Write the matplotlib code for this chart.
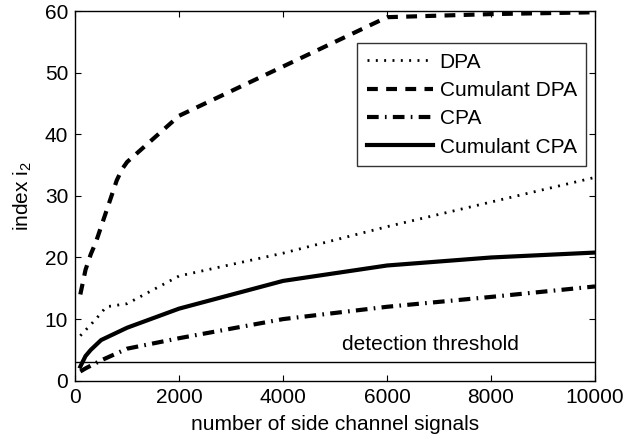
import matplotlib
matplotlib.use("Agg")
import matplotlib.pyplot as plt

plt.rcParams['font.family'] = ['Liberation Sans', 'DejaVu Sans']
plt.rcParams['mathtext.fontset'] = 'custom'
plt.rcParams['mathtext.rm'] = 'Liberation Sans'
plt.rcParams['mathtext.it'] = 'Liberation Sans'

# data
x_dpa = [100, 400, 600, 1000, 2000, 4000, 6000, 8000, 10000]
y_dpa = [7.3, 10.0, 12.0, 12.5, 17.0, 20.7, 25.0, 29.0, 33.0]

x_cdpa = [100, 200, 300, 400, 500, 600, 700, 800, 900, 1000, 2000, 4000, 6000, 8000, 10000]
y_cdpa = [14.0, 18.0, 20.5, 22.5, 25.0, 27.5, 30.0, 32.5, 34.3, 35.5, 43.0, 51.0, 59.0, 59.5, 59.8]

x_cpa = [100, 200, 500, 1000, 2000, 4000, 6000, 8000, 10000]
y_cpa = [1.5, 2.0, 3.3, 5.2, 6.9, 10.0, 12.0, 13.6, 15.3]

x_ccpa = [100, 200, 300, 500, 1000, 2000, 4000, 6000, 8000, 10000]
y_ccpa = [2.3, 4.0, 5.0, 6.6, 8.6, 11.7, 16.2, 18.7, 20.0, 20.8]

threshold = 3
threshold_label = "detection threshold"
labels = ["DPA", "Cumulant DPA", "CPA", "Cumulant CPA"]

fig = plt.figure(figsize=(6.26, 4.41), dpi=100)
ax = fig.add_axes([0.12, 0.1367, 0.8305, 0.8383])

ax.plot(x_dpa, y_dpa, color='black', lw=2.0, linestyle=(0, (0.7, 2.3)), label=labels[0])
ax.plot(x_cdpa, y_cdpa, color='black', lw=3.0, linestyle=(0, (2.6, 2.0)), label=labels[1])
ax.plot(x_cpa, y_cpa, color='black', lw=3.0, linestyle=(0, (2.8, 1.5, 0.4, 1.5)), label=labels[2])
ax.plot(x_ccpa, y_ccpa, color='black', lw=3.0, linestyle='-', label=labels[3])

ax.axhline(threshold, color='black', lw=1.0)
ax.text(6830, 5.9, threshold_label, fontsize=15, ha='center', va='center')

ax.set_xlim(0, 10000)
ax.set_ylim(0, 60)
ax.set_xticks([0, 2000, 4000, 6000, 8000, 10000])
ax.set_yticks([0, 10, 20, 30, 40, 50, 60])
ax.tick_params(direction='in', top=True, right=True, labelsize=15, length=4, width=0.8, pad=5)
for s in ax.spines.values():
    s.set_linewidth(1.0)

ax.set_xlabel("number of side channel signals", fontsize=15, labelpad=6)
ax.set_ylabel("index i$_2$", fontsize=15, labelpad=8)

leg = ax.legend(loc='upper right', bbox_to_anchor=(0.983, 0.913), fontsize=15,
                handlelength=3.2, frameon=True, fancybox=False, borderpad=0.45,
                labelspacing=0.45, handletextpad=0.3, borderaxespad=0)
leg.get_frame().set_edgecolor('black')
leg.get_frame().set_linewidth(1.0)

fig.savefig("out.png", dpi=100)
